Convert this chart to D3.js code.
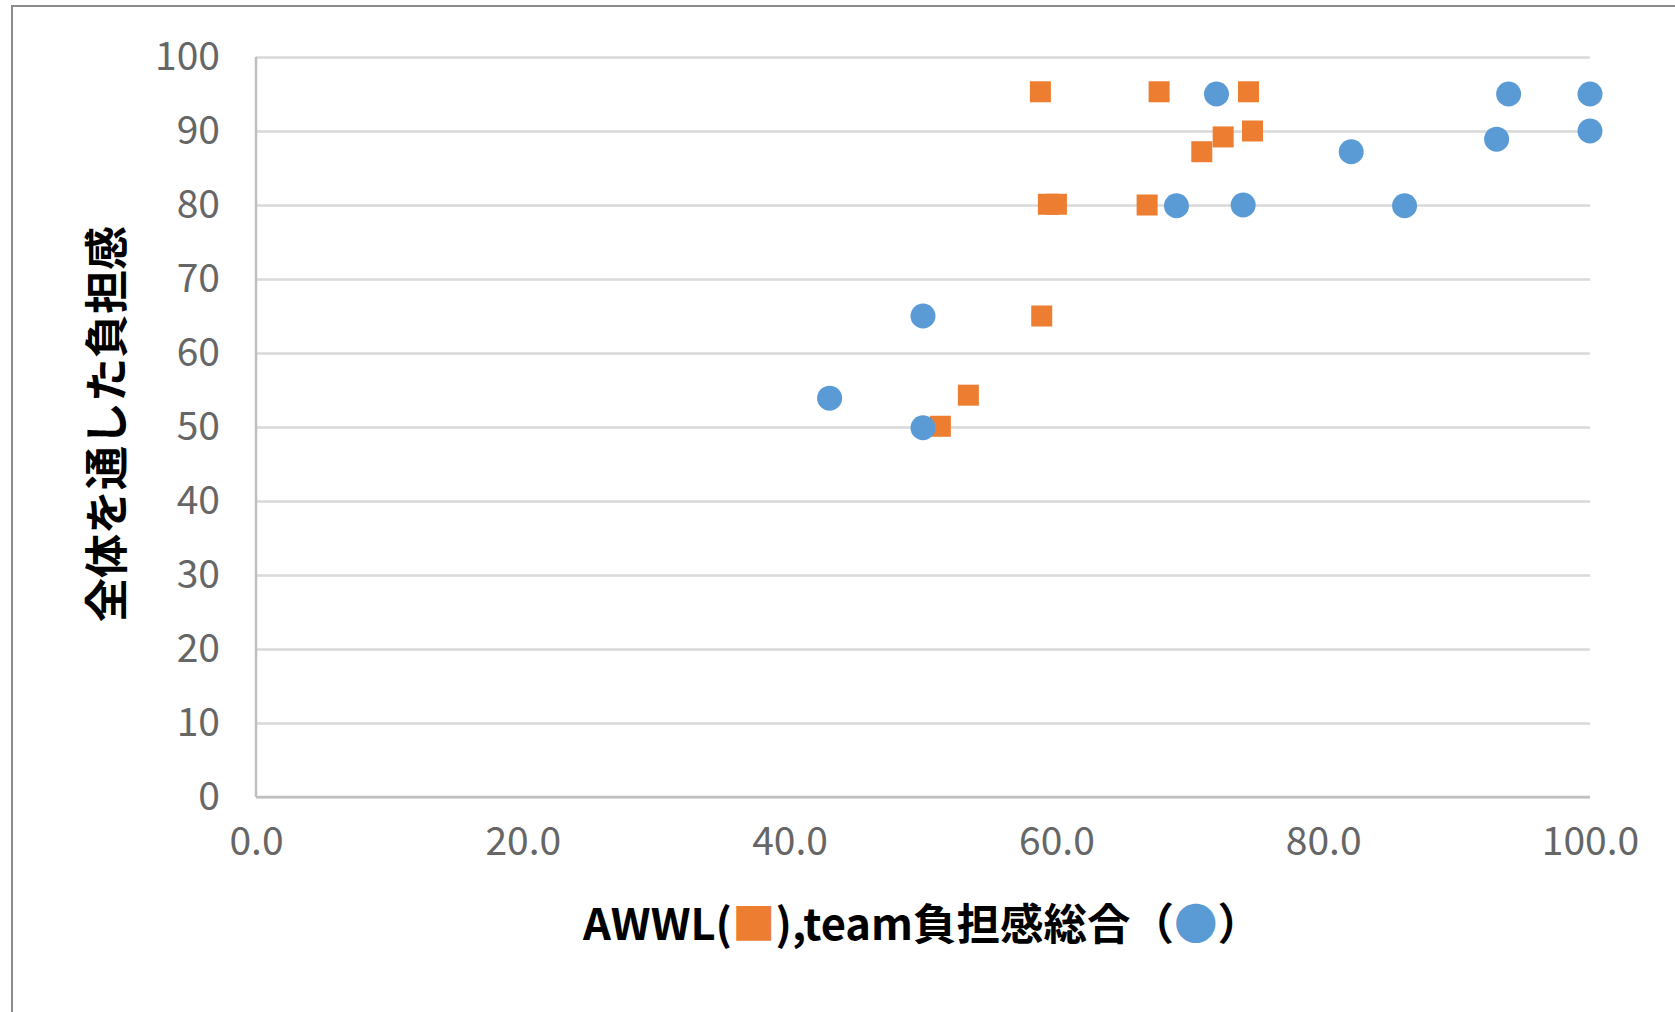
<!DOCTYPE html>
<html>
<head>
<meta charset="utf-8">
<script src="https://cdn.jsdelivr.net/npm/d3@7"></script>
<style>
  body { margin: 0; background: #fff; }
  svg { display: block; }
</style>
</head>
<body>
<script>
// data
let awwlX = [58.8, 67.7, 74.4, 74.7, 72.5, 70.9, 59.4, 60.0, 66.8, 58.9, 53.4, 51.3];
let awwlY = [95.3, 95.3, 95.3, 90.0, 89.2, 87.2, 80.1, 80.1, 80.0, 65.0, 54.3, 50.1];
let teamX = [72.0, 69.0, 74.0, 50.0, 43.0, 50.0, 93.9, 100.0, 100.0, 93.0, 82.1, 86.1];
let teamY = [95.0, 79.9, 80.0, 65.0, 53.9, 49.9, 95.0, 95.0, 90.0, 88.9, 87.2, 79.9];
let xTicks = [0, 20, 40, 60, 80, 100];
let yTicks = [0, 10, 20, 30, 40, 50, 60, 70, 80, 90, 100];

let W = 1675, H = 1012;
let plotL = 256, plotR = 1590, plotT = 57, plotB = 797;
let orange = '#ED7D31', blue = '#5B9BD5';
let font = '"Noto Sans CJK JP", "Noto Sans", sans-serif';

let svg = d3.select('body')
    .append('svg')
    .attr('width', W)
    .attr('height', H);

// outer frame (cut off on right and bottom)
svg.append('rect')
    .attr('x', 12)
    .attr('y', 6)
    .attr('width', W)
    .attr('height', H)
    .attr('fill', 'none')
    .attr('stroke', '#8c8c8c')
    .attr('stroke-width', 2);

let x = d3.scaleLinear().domain([0, 100]).range([plotL, plotR]);
let y = d3.scaleLinear().domain([0, 100]).range([plotB, plotT]);

// gridlines + y labels
let yAxis = d3.axisLeft(y)
    .tickValues(yTicks)
    .tickSize(-(plotR - plotL))
    .tickPadding(36)
    .tickFormat(d3.format('d'));

let gy = svg.append('g')
    .attr('transform', `translate(${plotL},0)`)
    .call(yAxis);
gy.select('.domain').remove();
gy.selectAll('.tick line')
    .attr('stroke', '#d9d9d9')
    .attr('stroke-width', 2.5);
gy.selectAll('.tick text')
    .attr('fill', '#666')
    .style('font-family', font)
    .style('font-size', '39px');

let xAxis = d3.axisBottom(x)
    .tickValues(xTicks)
    .tickSize(0)
    .tickPadding(30)
    .tickFormat(d3.format('.1f'));

let gx = svg.append('g')
    .attr('transform', `translate(0,${plotB})`)
    .call(xAxis);
gx.select('.domain').remove();
gx.selectAll('.tick text')
    .attr('fill', '#666')
    .style('font-family', font)
    .style('font-size', '39px');

// axis lines
svg.append('line')
    .attr('x1', plotL).attr('x2', plotL)
    .attr('y1', plotT).attr('y2', plotB)
    .attr('stroke', '#bfbfbf')
    .attr('stroke-width', 2.5);
svg.append('line')
    .attr('x1', plotL).attr('x2', plotR)
    .attr('y1', plotB).attr('y2', plotB)
    .attr('stroke', '#bfbfbf')
    .attr('stroke-width', 2.5);

// AWWL squares
let sq = 21;
svg.append('g')
    .selectAll('rect')
    .data(d3.range(awwlX.length))
    .join('rect')
    .attr('x', i => x(awwlX[i]) - sq / 2)
    .attr('y', i => y(awwlY[i]) - sq / 2)
    .attr('width', sq)
    .attr('height', sq)
    .attr('fill', orange);

// team circles
svg.append('g')
    .selectAll('circle')
    .data(d3.range(teamX.length))
    .join('circle')
    .attr('cx', i => x(teamX[i]))
    .attr('cy', i => y(teamY[i]))
    .attr('r', 12.5)
    .attr('fill', blue);

// y title
svg.append('text')
    .attr('transform', 'translate(104,424) rotate(-90)')
    .attr('text-anchor', 'middle')
    .attr('dominant-baseline', 'central')
    .style('font-family', font)
    .style('font-size', '44px')
    .style('font-weight', 'bold')
    .attr('fill', '#000')
    .text('全体を通した負担感');

// x title
let xt = svg.append('text')
    .attr('x', 922)
    .attr('y', 940)
    .attr('text-anchor', 'middle')
    .style('font-family', font)
    .style('font-size', '43.5px')
    .style('font-weight', 'bold')
    .attr('fill', '#000');
xt.append('tspan').text('AWWL(');
xt.append('tspan').attr('fill', orange).text('■');
xt.append('tspan').text('),team負担感総合（');
xt.append('tspan').attr('fill', blue).text('●');
xt.append('tspan').text('）');
</script>
</body>
</html>
